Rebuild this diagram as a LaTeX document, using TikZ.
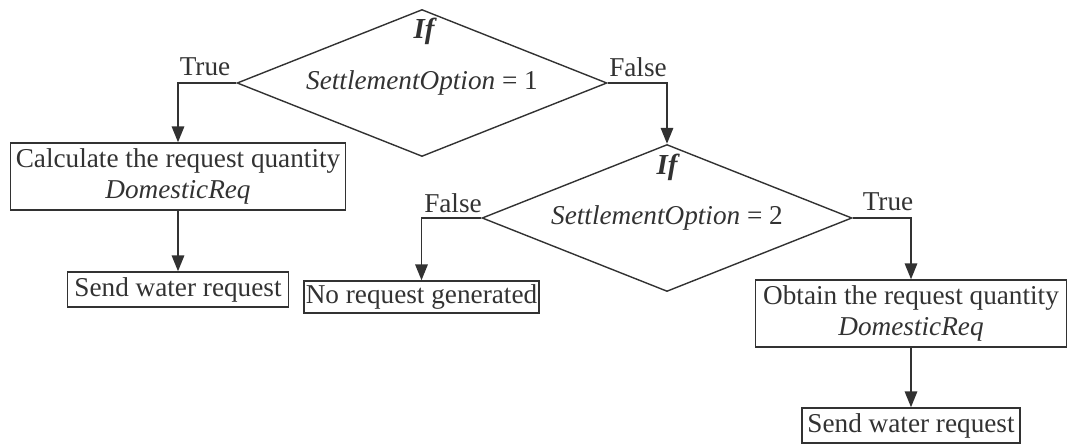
\documentclass[tikz,border=0pt]{standalone}
\usepackage{fontspec}
\setmainfont{Liberation Serif}
\usetikzlibrary{arrows.meta,shapes.geometric}
\definecolor{inkgray}{RGB}{50,50,50}

\begin{document}
\begin{tikzpicture}[x=0.02cm, y=-0.02cm,
    box/.style={draw=inkgray, line width=0.8pt, text=inkgray, align=center, inner sep=1pt,
        font=\fontsize{15.5}{17.5}\selectfont},
    cond/.style={draw=inkgray, diamond, aspect=2.52, line width=0.8pt, inner sep=0pt, text=inkgray,
        font=\fontsize{15.5}{17.5}\selectfont, minimum width=7.4cm, minimum height=2.94cm},
    tag/.style={text=inkgray, inner sep=0pt, font=\fontsize{15.5}{17.5}\selectfont},
    flow/.style={draw=inkgray, line width=1.1pt, -{Triangle[length=9pt,width=7pt]}}]
    \useasboundingbox (0,0) rectangle (1068,446);

    % first test
    \node[cond] (cond1) at (422,83) {\textit{SettlementOption} = 1};
    \node[tag, font=\fontsize{16.5}{17}\selectfont\bfseries\itshape] (if1) at (424,31) {If};
    \node[tag] (true1) at (205,67) {True};
    \node[tag] (false1) at (638,67) {False};

    % left branch
    \node[box, minimum width=6.7cm, minimum height=1.34cm] (calc) at (178,176.5)
        {Calculate the request quantity\\\textit{DomesticReq}};
    \node[box, minimum width=4.42cm, minimum height=0.7cm] (send1) at (178,289.5)
        {Send water request};

    \draw[flow] (cond1.west) -| (calc.north);
    \draw[flow] (calc) -- (send1);

    % second test
    \node[cond] (cond2) at (667,218) {\textit{SettlementOption} = 2};
    \node[tag, font=\fontsize{16.5}{17}\selectfont\bfseries\itshape] (if2) at (667,167) {If};
    \node[tag] (false2) at (453,203) {False};
    \node[tag] (true2) at (888,202) {True};

    \draw[flow] (cond1.east) -| (cond2.north);

    % right branches
    \node[box, minimum width=4.66cm, minimum height=0.64cm] (nogen) at (421.5,297)
        {No request generated};
    \node[box, minimum width=6.22cm, minimum height=1.34cm] (obtain) at (911,313.5)
        {Obtain the request quantity\\\textit{DomesticReq}};
    \node[box, minimum width=4.36cm, minimum height=0.7cm] (send2) at (911,425.5)
        {Send water request};

    \draw[flow] (cond2.west) -| (nogen.north);
    \draw[flow] (cond2.east) -| (obtain.north);
    \draw[flow] (obtain) -- (send2);
\end{tikzpicture}
\end{document}
